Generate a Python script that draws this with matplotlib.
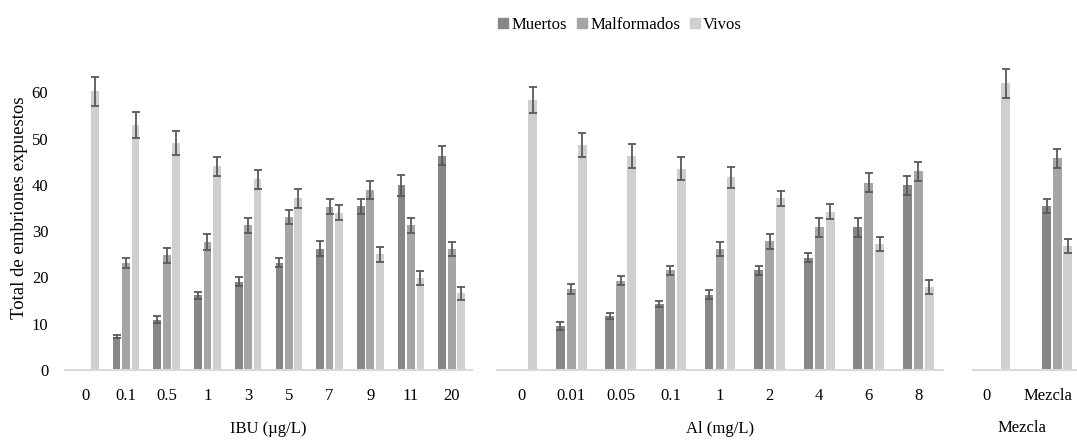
import numpy as np
import matplotlib.pyplot as plt
import matplotlib.transforms as mtransforms
from matplotlib.patches import Patch

plt.rcParams['font.family'] = ['Liberation Serif', 'DejaVu Serif']

series = ['Muertos', 'Malformados', 'Vivos']
colors = ['#878787', '#a5a5a5', '#cfcfcf']

# IBU panel
ibu_cats = ['0', '0.1', '0.5', '1', '3', '5', '7', '9', '11', '20']
ibu_muertos = [np.nan, 7.2, 10.9, 16.1, 19.1, 23.2, 26.2, 35.4, 39.9, 46.3]
ibu_muertos_err = [np.nan, 0.3, 0.8, 0.7, 1.0, 1.0, 1.6, 1.6, 2.2, 2.0]
ibu_malf = [np.nan, 23.1, 24.8, 27.7, 31.3, 33.1, 35.3, 38.9, 31.3, 26.1]
ibu_malf_err = [np.nan, 1.1, 1.6, 1.7, 1.6, 1.5, 1.6, 2.0, 1.6, 1.5]
ibu_vivos = [60.2, 53.0, 49.1, 44.0, 41.2, 37.1, 34.0, 25.0, 19.9, 16.6]
ibu_vivos_err = [3.2, 2.8, 2.6, 2.1, 2.1, 2.0, 1.6, 1.6, 1.5, 1.4]

# Al panel
al_cats = ['0', '0.01', '0.05', '0.1', '1', '2', '4', '6', '8']
al_muertos = [np.nan, 9.5, 11.7, 14.3, 16.3, 21.5, 24.3, 30.8, 39.9]
al_muertos_err = [np.nan, 0.8, 0.6, 0.7, 1.0, 1.0, 1.0, 2.0, 2.0]
al_malf = [np.nan, 17.5, 19.3, 21.5, 26.2, 27.8, 30.8, 40.5, 42.9]
al_malf_err = [np.nan, 1.1, 1.0, 1.0, 1.5, 1.6, 2.0, 2.1, 2.0]
al_vivos = [58.4, 48.7, 46.3, 43.5, 41.6, 37.1, 34.2, 27.3, 18.0]
al_vivos_err = [2.8, 2.6, 2.6, 2.5, 2.2, 1.6, 1.6, 1.5, 1.5]

# Mezcla panel
mix_cats = ['0', 'Mezcla']
mix_muertos = [np.nan, 35.4]
mix_muertos_err = [np.nan, 1.5]
mix_malf = [np.nan, 45.7]
mix_malf_err = [np.nan, 2.1]
mix_vivos = [61.9, 26.7]
mix_vivos_err = [3.2, 1.5]

fig = plt.figure(figsize=(10.77, 4.46), dpi=100)
bottom, height = 76 / 446, 324 / 446
ax1 = fig.add_axes([65 / 1077, bottom, 407 / 1077, height])
ax2 = fig.add_axes([497 / 1077, bottom, 446 / 1077, height])
ax3 = fig.add_axes([973 / 1077, bottom, 104 / 1077, height])


def draw(ax, cats, vals, errs, step, width, xlim, xlabel):
    x = np.arange(len(cats))
    for i, (v, e) in enumerate(zip(vals, errs)):
        pos = x + (i - 1) * step
        ax.bar(pos, v, width=width, color=colors[i], zorder=2)
        ax.errorbar(pos, v, yerr=e, fmt='none', ecolor='#595959',
                    elinewidth=1.3, capsize=3, capthick=1.3, zorder=3)
    ax.set_xticks(x)
    ax.set_xticklabels(cats, fontsize=12)
    ax.set_xlim(*xlim)
    ax.set_ylim(0, 70)
    ax.set_xlabel(xlabel, fontsize=12, labelpad=12)
    for s in ['top', 'right', 'left']:
        ax.spines[s].set_visible(False)
    ax.spines['bottom'].set_color('#d9d9d9')
    ax.spines['bottom'].set_linewidth(1.5)
    ax.tick_params(axis='x', length=0, pad=13)
    ax.tick_params(axis='y', length=0)


draw(ax1, ibu_cats, [ibu_muertos, ibu_malf, ibu_vivos],
     [ibu_muertos_err, ibu_malf_err, ibu_vivos_err], 0.233, 0.19, (-0.5, 9.5), 'IBU (µg/L)')
draw(ax2, al_cats, [al_muertos, al_malf, al_vivos],
     [al_muertos_err, al_malf_err, al_vivos_err], 0.222, 0.18, (-0.5, 8.5), 'Al (mg/L)')
draw(ax3, mix_cats, [mix_muertos, mix_malf, mix_vivos],
     [mix_muertos_err, mix_malf_err, mix_vivos_err], 0.17, 0.145, (-0.355, 1.32), 'Mezcla')

# the last panel's labels sit a little left of the bars in the original
shift = mtransforms.ScaledTranslation(-9 / 100, 0, fig.dpi_scale_trans)
for lbl in ax3.get_xticklabels():
    lbl.set_transform(lbl.get_transform() + shift)
ax3.xaxis.set_label_coords(0.47, -0.18)
ax3.xaxis.label.set_va('center')

ax1.set_yticks(range(0, 61, 10))
ax1.tick_params(axis='y', labelsize=12, pad=12)
ax1.set_ylabel('Total de embriones expuestos', fontsize=13.5, labelpad=3)
for ax in (ax2, ax3):
    ax.set_yticks([])

handles = [Patch(color=c, label=s) for c, s in zip(colors, series)]
fig.legend(handles=handles, loc='center', bbox_to_anchor=(620 / 1077, 1 - 25 / 446),
           ncol=3, frameon=False, fontsize=12, handlelength=0.6, handleheight=0.6,
           handletextpad=0.2, columnspacing=0.6)

fig.savefig('out.png', dpi=100)
